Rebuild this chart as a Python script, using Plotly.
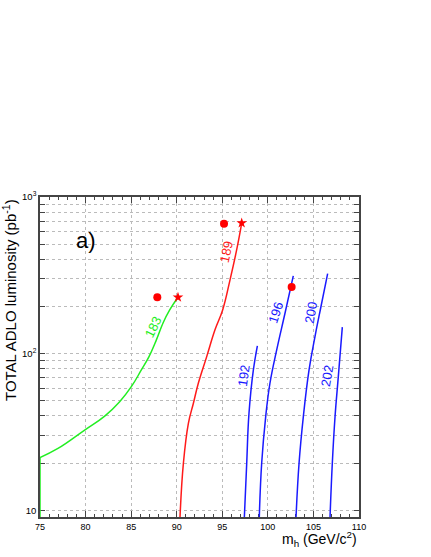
import math
import plotly.graph_objects as go

# exclusion curves: (m_h, luminosity)
m_183 = [75.0, 75.0, 76.97, 79.9, 82.1, 83.74, 85.02, 86.12, 86.96, 87.76, 88.5, 89.23, 90.14]
l_183 = [9.0, 21.7, 24.8, 32.5, 39.9, 49.3, 61.5, 78.7, 95.7, 122, 157, 190, 229]

m_189 = [90.36, 90.73, 91.28, 91.83, 92.37, 93.29, 94.2, 95.04, 95.85, 96.58, 97.13]
l_189 = [9.0, 19.9, 35.9, 48.2, 64.7, 95.7, 142, 190, 296, 461, 682]

m_192 = [97.42, 97.68, 97.93, 98.41, 98.85]
l_192 = [9.0, 19.9, 41.6, 78.7, 112]

m_196 = [99.06, 99.32, 99.76, 100.23, 100.97, 101.88, 102.79]
l_196 = [9.0, 19.9, 39.5, 64.7, 105.7, 181, 314]

m_200 = [103.09, 103.42, 103.89, 104.52, 105.17, 105.83, 106.56]
l_200 = [9.0, 19.9, 39.5, 78.7, 128.5, 200, 324]

m_202 = [106.82, 107.07, 107.37, 107.73, 108.17]
l_202 = [9.0, 19.9, 39.5, 71.3, 147.6]

# end-points (stars) and dots
star_m = [90.14, 97.13]
star_l = [229, 682]
dot_m = [87.87, 95.19, 102.61]
dot_l = [229, 676, 266]

# curve labels: text, m_h, lumi, angle, colour
labels = [("183", 87.45, 149, -64, "#22ee22"),
          ("189", 95.45, 450, -78, "#ff1a1a"),
          ("192", 97.31, 73, -82, "#1a1aff"),
          ("196", 100.89, 183, -72, "#1a1aff"),
          ("200", 104.73, 183, -80, "#1a1aff"),
          ("202", 106.57, 72, -80, "#1a1aff")]

x_ticks = [75, 80, 85, 90, 95, 100, 105, 110]
y_ticks = [10, 20, 30, 40, 50, 60, 70, 80, 90,
           100, 200, 300, 400, 500, 600, 700, 800, 900, 1000]
y_text = ["10"] + [""] * 8 + ["10<sup>2</sup>"] + [""] * 8 + ["10<sup>3</sup>"]

fnt = "Liberation Sans, Arial, sans-serif"
GREEN = "#22ee22"
RED = "#ff1a1a"
BLUE = "#1a1aff"

fig = go.Figure()
# vertical piece of 183 along the left edge
fig.add_trace(go.Scatter(x=m_183[:2], y=l_183[:2], mode="lines",
                         line=dict(color=GREEN, width=1.5), showlegend=False))
curves = [(m_183[1:], l_183[1:], GREEN), (m_189, l_189, RED),
          (m_192, l_192, BLUE), (m_196, l_196, BLUE),
          (m_200, l_200, BLUE), (m_202, l_202, BLUE)]
for xs, ys, col in curves:
    fig.add_trace(go.Scatter(x=xs, y=ys, mode="lines",
                             line=dict(color=col, width=1.5, shape="spline", smoothing=1.2),
                             showlegend=False))

fig.add_trace(go.Scatter(x=star_m, y=star_l, mode="markers",
                         marker=dict(symbol="star", size=8, color="#ff0000"),
                         showlegend=False))
fig.add_trace(go.Scatter(x=dot_m, y=dot_l, mode="markers",
                         marker=dict(symbol="circle", size=8, color="#ff0000"),
                         showlegend=False))

# log axis -> annotation y in log10 units
for txt, xm, yl, ang, col in labels:
    fig.add_annotation(x=xm, y=math.log10(yl), yref="y", xref="x", text=txt, showarrow=False,
                       textangle=ang, font=dict(family=fnt, size=13, color=col))

fig.add_annotation(x=0.1066, y=0.908, xref="paper", yref="paper", text="a)",
                   showarrow=False, font=dict(family=fnt, size=22, color="black"))

fig.add_annotation(x=1, y=0, xref="paper", yref="paper", xanchor="right", yanchor="top",
                   yshift=-10, text="m<sub>h</sub> (GeV/c<sup>2</sup>)", showarrow=False,
                   font=dict(family=fnt, size=14, color="black"))
fig.add_annotation(x=0, y=1, xref="paper", yref="paper", xanchor="center", yanchor="top",
                   xshift=-31, text="TOTAL ADLO luminosity (pb<sup>-1</sup>)", textangle=-90,
                   showarrow=False, font=dict(family=fnt, size=15, color="black"))

fig.update_xaxes(range=[75, 110], tickvals=x_ticks, ticks="inside", ticklen=6,
                 showline=True, linecolor="#444", linewidth=1.5, mirror="ticks",
                 showgrid=True, gridcolor="#bbbbbb", griddash="dot", gridwidth=1,
                 zeroline=False, layer="below traces",
                 tickfont=dict(family=fnt, size=9, color="black"),
                 minor=dict(dtick=1, ticks="inside", ticklen=3, tickcolor="#444", showgrid=False))
fig.update_yaxes(type="log", range=[0.957, 3], tickvals=y_ticks, ticktext=y_text,
                 ticks="inside", ticklen=5, showline=True, linecolor="#444", linewidth=1.5,
                 mirror="ticks", showgrid=True, gridcolor="#bbbbbb", griddash="dot", gridwidth=1,
                 zeroline=False, layer="below traces",
                 tickfont=dict(family=fnt, size=9.5, color="black"))

fig.update_layout(width=431, height=557, margin=dict(l=40, r=72, t=197, b=40),
                  plot_bgcolor="white", paper_bgcolor="white", showlegend=False)

# drop the default 8px page margin so the figure fills the window
fig.write_html("out.html", config={"displayModeBar": False},
               post_script="document.body.style.margin='0';")
